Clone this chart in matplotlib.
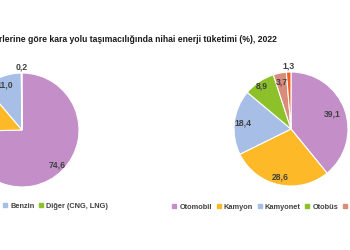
import numpy as np
import matplotlib.pyplot as plt
from matplotlib.lines import Line2D

plt.rcParams['font.family'] = ['Liberation Sans', 'DejaVu Sans']

# Yakıt türleri
yakit = ['Motorin', 'LPG', 'Benzin', 'Diğer (CNG, LNG)']
yakit_pay = [74.6, 14.2, 11.0, 0.2]
yakit_renk = ['#c48fc9', '#fdb927', '#a7bfe6', '#8cc12a']
yakit_uzak = [0.87, 0.85, 0.84, 1.11]

# Araç türleri
arac = ['Otomobil', 'Kamyon', 'Kamyonet', 'Otobüs', 'Minibüs', 'Motosiklet']
arac_pay = [39.1, 28.6, 18.4, 8.9, 3.7, 1.3]
arac_renk = ['#c48fc9', '#fdb927', '#a7bfe6', '#8cc12a', '#d98c7c', '#f0601e']
arac_uzak = [0.77, 0.86, 0.84, 0.92, 0.84, 1.11]

baslik = 'Yakıt ve araç türlerine göre kara yolu taşımacılığında nihai enerji tüketimi (%), 2022'

W, H = 350, 250
fig = plt.figure(figsize=(W / 100, H / 100), dpi=100)
fig.patch.set_facecolor('white')

yazi_renk = '#404040'


def pasta(cx, cy, r, degerler, renkler, uzak):
    ax = fig.add_axes([(cx - r) / W, (H - cy - r) / H, 2 * r / W, 2 * r / H])
    wedges, _ = ax.pie(degerler, colors=renkler, startangle=90, counterclock=False,
                       wedgeprops=dict(edgecolor='white', linewidth=0.8))
    for w, v, d in zip(wedges, degerler, uzak):
        a = np.deg2rad((w.theta1 + w.theta2) / 2)
        ax.text(d * np.cos(a), d * np.sin(a), f'{v:.1f}'.replace('.', ','),
                ha='center', va='center', fontsize=6.2, color=yazi_renk,
                fontweight='bold')
    ax.set_xlim(-1, 1)
    ax.set_ylim(-1, 1)
    ax.set_aspect('equal')
    ax.axis('off')
    return ax


pasta(22, 130, 57, yakit_pay, yakit_renk, yakit_uzak)
pasta(291, 129, 57, arac_pay, arac_renk, arac_uzak)


def lejant(isimler, renkler, x, y, loc):
    h = [Line2D([], [], marker='s', markersize=2.2, linestyle='none', color=c) for c in renkler]
    fig.legend(h, isimler, loc=loc, bbox_to_anchor=(x / W, 1 - y / H),
               bbox_transform=fig.transFigure, ncol=len(isimler), frameon=False,
               prop=dict(size=5.3, weight='bold'), labelcolor=yazi_renk,
               handlelength=0.4, handletextpad=0.5,
               columnspacing=0.7, borderpad=0, borderaxespad=0)


lejant(yakit, yakit_renk, 108, 206, 'center right')
lejant(arac, arac_renk, 173, 207, 'center left')

fig.text(277 / W, 1 - 39 / H, baslik, ha='right', va='center', fontsize=6.2,
         color='#1a1a1a', fontweight='bold')

fig.savefig('out.png', dpi=100)
